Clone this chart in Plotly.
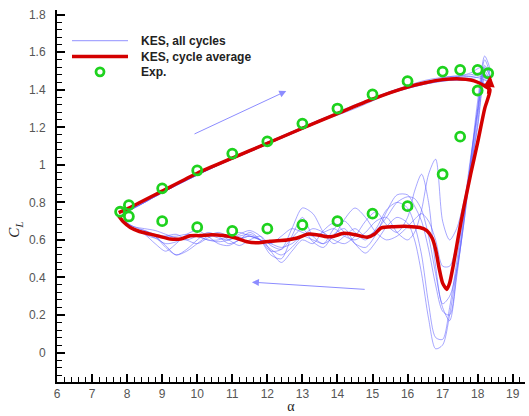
import plotly.graph_objects as go

# ---------------- data ----------------
# experiment
exp_alpha = [7.8, 8.05, 8.05, 9.0, 10.0, 11.0, 12.0, 13.0, 14.0, 15.0, 16.0, 17.0, 17.5, 18.0, 18.3,
             18.0, 17.5, 17.0, 16.0, 15.0, 14.0, 13.0, 12.0, 11.0, 10.0, 9.0]
exp_cl = [0.75, 0.785, 0.725, 0.875, 0.97, 1.06, 1.125, 1.22, 1.30, 1.375, 1.446, 1.497, 1.506, 1.506, 1.488,
          1.396, 1.15, 0.95, 0.78, 0.74, 0.70, 0.68, 0.66, 0.648, 0.668, 0.70]

# cycle average (upstroke then downstroke)
avg_alpha = [7.76, 8.0, 9.0, 10.0, 11.0, 12.0, 13.0, 14.0, 15.0, 16.0, 16.5, 17.0, 17.5, 17.8, 18.0, 18.2, 18.35,
             18.2, 18.0, 17.8, 17.6, 17.45, 17.3, 17.2, 17.12, 17.0, 16.9, 16.8, 16.7, 16.55, 16.35, 16.0,
             15.6, 15.25, 15.05, 14.85, 14.5, 14.17, 13.9, 13.7, 13.4, 13.17, 12.85, 12.56, 12.08, 11.75,
             11.42, 11.1, 10.75, 10.4, 10.09, 9.8, 9.53, 9.23, 8.9, 8.66, 8.35, 8.09, 7.9, 7.76]
avg_cl = [0.745, 0.765, 0.86, 0.955, 1.036, 1.115, 1.195, 1.273, 1.35, 1.414, 1.437, 1.454, 1.458, 1.452, 1.44, 1.42, 1.40,
          1.30, 1.12, 0.95, 0.77, 0.62, 0.46, 0.37, 0.336, 0.37, 0.45, 0.55, 0.61, 0.65, 0.666, 0.672,
          0.67, 0.664, 0.63, 0.614, 0.628, 0.635, 0.62, 0.617, 0.628, 0.631, 0.61, 0.60, 0.593, 0.585,
          0.59, 0.61, 0.623, 0.628, 0.623, 0.622, 0.605, 0.605, 0.62, 0.631, 0.645, 0.666, 0.695, 0.728]

# individual cycles
up_alpha = [7.8, 8.5, 9.5, 10.5, 11.5, 12.5, 13.5, 14.5, 15.5, 16.5, 17.2, 17.8, 18.1, 18.35]
dn_alpha = [18.2, 18.0, 17.8, 17.6, 17.4, 17.2, 17.0, 16.8, 16.6, 16.4, 16.2, 16.0, 15.7, 15.4, 15.1,
            14.8, 14.5, 14.2, 13.9, 13.6, 13.3, 13.0, 12.7, 12.4, 12.1, 11.8, 11.5, 11.2, 10.9, 10.6,
            10.3, 10.0, 9.7, 9.4, 9.1, 8.8, 8.5, 8.2, 8.0, 7.8]

cyc1_up = [0.72, 0.80, 0.90, 0.99, 1.07, 1.15, 1.23, 1.31, 1.38, 1.44, 1.47, 1.48, 1.49, 1.47]
cyc1_dn = [1.56, 1.30, 1.02, 0.72, 0.44, 0.20, 0.04, 0.02, 0.18, 0.42, 0.60, 0.69, 0.72, 0.67, 0.59,
           0.53, 0.58, 0.66, 0.63, 0.56, 0.59, 0.66, 0.61, 0.55, 0.57, 0.62, 0.60, 0.57, 0.60, 0.63,
           0.61, 0.58, 0.60, 0.63, 0.62, 0.61, 0.63, 0.66, 0.68, 0.72]
cyc2_up = [0.72, 0.81, 0.91, 1.00, 1.08, 1.16, 1.24, 1.32, 1.39, 1.45, 1.47, 1.47, 1.46, 1.44]
cyc2_dn = [1.50, 1.28, 1.04, 0.76, 0.48, 0.24, 0.07, 0.08, 0.26, 0.52, 0.68, 0.77, 0.80, 0.76, 0.66,
           0.60, 0.64, 0.70, 0.66, 0.58, 0.62, 0.72, 0.62, 0.50, 0.52, 0.60, 0.64, 0.60, 0.58, 0.62,
           0.64, 0.60, 0.55, 0.52, 0.57, 0.62, 0.64, 0.66, 0.68, 0.72]
cyc3_up = [0.72, 0.80, 0.90, 0.99, 1.07, 1.15, 1.23, 1.30, 1.38, 1.44, 1.46, 1.49, 1.52, 1.50]
cyc3_dn = [1.58, 1.34, 1.02, 0.70, 0.40, 0.17, 0.24, 0.42, 0.62, 0.76, 0.82, 0.83, 0.80, 0.72, 0.65,
           0.62, 0.66, 0.62, 0.58, 0.64, 0.74, 0.77, 0.66, 0.55, 0.54, 0.60, 0.63, 0.62, 0.60, 0.61,
           0.63, 0.62, 0.60, 0.61, 0.63, 0.65, 0.66, 0.67, 0.69, 0.72]
cyc4_up = [0.72, 0.81, 0.90, 0.99, 1.08, 1.16, 1.24, 1.31, 1.39, 1.44, 1.46, 1.46, 1.47, 1.46]
cyc4_dn = [1.53, 1.30, 1.00, 0.68, 0.42, 0.20, 0.22, 0.36, 0.55, 0.70, 0.78, 0.84, 0.84, 0.75, 0.63,
           0.56, 0.58, 0.64, 0.69, 0.65, 0.58, 0.60, 0.54, 0.48, 0.54, 0.62, 0.65, 0.63, 0.60, 0.59,
           0.60, 0.62, 0.62, 0.59, 0.58, 0.61, 0.64, 0.66, 0.69, 0.72]
cyc5_up = [0.72, 0.80, 0.90, 0.99, 1.07, 1.15, 1.23, 1.31, 1.38, 1.43, 1.45, 1.45, 1.44, 1.42]
cyc5_dn = [1.48, 1.22, 0.98, 0.80, 0.66, 0.60, 0.70, 1.03, 0.95, 0.76, 0.64, 0.60, 0.64, 0.72, 0.70,
           0.64, 0.60, 0.62, 0.66, 0.64, 0.62, 0.64, 0.66, 0.62, 0.58, 0.60, 0.62, 0.60, 0.57, 0.58,
           0.62, 0.65, 0.63, 0.58, 0.54, 0.58, 0.63, 0.66, 0.69, 0.72]
cyc6_up = [0.72, 0.81, 0.91, 1.00, 1.08, 1.16, 1.24, 1.31, 1.39, 1.44, 1.46, 1.47, 1.48, 1.46]
cyc6_dn = [1.52, 1.26, 0.98, 0.68, 0.44, 0.30, 0.26, 0.46, 0.80, 0.95, 0.86, 0.72, 0.64, 0.68, 0.75,
           0.70, 0.62, 0.58, 0.60, 0.64, 0.66, 0.62, 0.56, 0.52, 0.55, 0.60, 0.62, 0.61, 0.62, 0.64,
           0.62, 0.58, 0.54, 0.52, 0.56, 0.62, 0.65, 0.66, 0.68, 0.72]
cyc7_up = [0.72, 0.80, 0.90, 0.99, 1.07, 1.15, 1.23, 1.31, 1.38, 1.43, 1.45, 1.45, 1.44, 1.42]
cyc7_dn = [1.46, 1.20, 0.98, 0.78, 0.58, 0.46, 0.46, 0.60, 0.70, 0.74, 0.71, 0.67, 0.62, 0.60, 0.64,
           0.72, 0.77, 0.71, 0.62, 0.58, 0.60, 0.62, 0.58, 0.56, 0.58, 0.60, 0.62, 0.64, 0.62, 0.60,
           0.60, 0.62, 0.63, 0.62, 0.62, 0.63, 0.65, 0.67, 0.69, 0.72]

cycles = [(cyc1_up, cyc1_dn), (cyc2_up, cyc2_dn), (cyc3_up, cyc3_dn), (cyc4_up, cyc4_dn),
          (cyc5_up, cyc5_dn), (cyc6_up, cyc6_dn), (cyc7_up, cyc7_dn)]

x_ticks = list(range(6, 20))
y_ticks = [0, 0.2, 0.4, 0.6, 0.8, 1, 1.2, 1.4, 1.6, 1.8]
y_ticktext = ["0", "0.2", "0.4", "0.6", "0.8", "1", "1.2", "1.4", "1.6", "1.8"]
legend_names = ["KES, all cycles", "KES, cycle average", "Exp."]

# ---------------- figure ----------------
BLUE = "rgba(95,95,255,0.55)"
RED = "#d40000"
GREEN = "#1ed21e"

fig = go.Figure()

for i, (cu, cd) in enumerate(cycles):
    fig.add_trace(go.Scatter(
        x=up_alpha + dn_alpha, y=cu + cd, mode="lines",
        line=dict(color=BLUE, width=1, shape="spline", smoothing=0.8),
        name=legend_names[0], showlegend=False, hoverinfo="skip"))

fig.add_trace(go.Scatter(
    x=avg_alpha, y=avg_cl, mode="lines",
    line=dict(color=RED, width=3.5, shape="spline", smoothing=0.6),
    name=legend_names[1], showlegend=False))

fig.add_trace(go.Scatter(
    x=exp_alpha, y=exp_cl, mode="markers",
    marker=dict(symbol="circle-open", size=9, color=GREEN, line=dict(width=2.8, color=GREEN)),
    name=legend_names[2], showlegend=False))

# direction arrows
fig.add_annotation(x=12.54, y=1.393, ax=9.88, ay=1.161, xref="x", yref="y", axref="x", ayref="y",
                   showarrow=True, arrowhead=2, arrowsize=1.4, arrowwidth=1, arrowcolor="#8c8cff", text="")
fig.add_annotation(x=11.56, y=0.375, ax=14.82, ay=0.336, xref="x", yref="y", axref="x", ayref="y",
                   showarrow=True, arrowhead=2, arrowsize=1.4, arrowwidth=1, arrowcolor="#8c8cff", text="")
fig.add_annotation(x=18.36, y=1.475, ax=18.30, ay=1.37, xref="x", yref="y", axref="x", ayref="y",
                   showarrow=True, arrowhead=2, arrowsize=0.75, arrowwidth=3, arrowcolor=RED, text="")

# legend (drawn manually to match spacing)
L = 57.0
W = 468.0
T = 10.0
H = 376.0
def px(xp):
    return (xp - L) / W
def py(yp):
    return 1 - (yp - T) / H

leg_font = dict(family="Liberation Sans, Arial, sans-serif", size=12, color="#222222", weight="bold")
fig.add_shape(type="line", xref="paper", yref="paper", x0=px(72), x1=px(128), y0=py(41), y1=py(41),
              line=dict(color=BLUE, width=1.2))
fig.add_shape(type="line", xref="paper", yref="paper", x0=px(72), x1=px(128), y0=py(57), y1=py(57),
              line=dict(color=RED, width=3.5))
fig.add_shape(type="circle", xref="paper", yref="paper", xsizemode="pixel", ysizemode="pixel",
              xanchor=px(100), yanchor=py(72.5), x0=-4, x1=4, y0=-4, y1=4,
              line=dict(color=GREEN, width=2.8))
for name, yy in zip(legend_names, [41, 57, 72.5]):
    fig.add_annotation(x=px(139), y=py(yy), xref="paper", yref="paper", xanchor="left", yanchor="middle",
                       text=name, showarrow=False, font=leg_font)

# y axis title
fig.add_annotation(x=px(15), y=py(232), xref="paper", yref="paper", xanchor="center", yanchor="middle",
                   text="<i>C<sub>L</sub></i>", textangle=-90, showarrow=False,
                   font=dict(family="Liberation Serif, Times New Roman, serif", size=15, color="#222222"))

axis_common = dict(
    showline=True, linecolor="black", linewidth=2, mirror=False,
    ticks="inside", ticklen=8, tickwidth=2, tickcolor="black",
    showgrid=False, zeroline=False,
    tickfont=dict(family="Liberation Sans, Arial, sans-serif", size=12, color="#555555"),
)

fig.update_xaxes(
    range=[6, 19.35], tickvals=x_ticks,
    minor=dict(ticks="inside", ticklen=5, tickwidth=1.3, tickcolor="black", dtick=0.2, tick0=0, showgrid=False),
    title=dict(text="α", font=dict(family="Liberation Serif, Times New Roman, serif", size=14, color="#222"),
               standoff=1),
    **axis_common)
fig.update_yaxes(
    range=[-0.157, 1.825], tickvals=y_ticks, ticktext=y_ticktext,
    minor=dict(ticks="inside", ticklen=5, tickwidth=1.3, tickcolor="black", dtick=0.04, tick0=0, showgrid=False),
    ticklabelstandoff=7,
    **axis_common)

fig.update_layout(
    width=529, height=416,
    margin=dict(l=57, r=4, t=10, b=30),
    paper_bgcolor="white", plot_bgcolor="white",
    showlegend=False,
)

fig.write_html("out.html")
